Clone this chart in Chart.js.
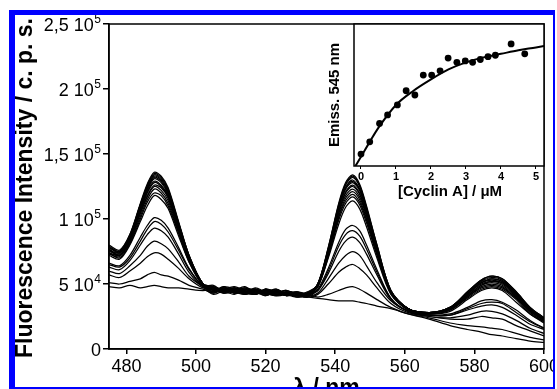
<!DOCTYPE html>
<html><head><meta charset="utf-8">
<script src="https://cdn.jsdelivr.net/npm/chart.js@4.4.1/dist/chart.umd.min.js"></script>
<style>
html,body{margin:0;padding:0;background:#fff;overflow:hidden;width:557px;height:389px;}
#wrap{position:relative;width:557px;height:389px;overflow:hidden;}
canvas{position:absolute;left:0;top:0;}
#frame{position:absolute;left:9px;top:10px;width:546px;height:379px;box-sizing:border-box;border-style:solid;border-color:#0000ff;border-width:5px 2px 2px 6px;outline:60px solid #fff;pointer-events:none;}
</style></head>
<body><div id="wrap">
<canvas id="main" width="580" height="400"></canvas>
<canvas id="inset" width="580" height="400"></canvas>
<div id="frame"></div>
</div>
<script>
// ---- main chart data (intensity in 10^3 c.p.s.) ----
const wavelengths = [475,478,481,484,486,488,490,492,495,498,502,505,508,511,514,517,520,523,526,529,532,535,538,541,543,545,547,549,552,556,561,567,573,578,582,585,588,592,596,600];
const spectrum00 = [48,47,49,47,48,49,48,47,47,46,45,46,45,45,44,44,43,42,42,41,40,39,38,37,37,37,36,35,33,31,27,23,18,15,13,11,10,8,6,5];
const spectrum01 = [51,50,52,54,57,59,57,56,53,49,46,43,46,44,42,45,43,41,44,40,42,40,42,45,47,48,46,43,38,32,27,24,20,18,17,16,15,12,9,7];
const spectrum02 = [57,55,60,66,71,74,73,69,62,54,47,47,44,46,43,42,45,44,41,43,40,42,50,59,63,65,62,57,47,35,28,25,23,23,25,24,23,18,14,10];
const spectrum03 = [60,58,64,72,79,83,81,77,67,56,48,44,47,43,46,44,41,44,42,44,41,43,54,66,72,75,72,64,51,37,29,25,24,26,29,29,27,22,16,12];
const spectrum04 = [63,61,68,80,88,93,91,86,73,59,48,48,45,44,47,43,45,42,44,41,43,45,58,75,83,86,82,73,57,38,29,26,26,30,33,34,32,26,19,15];
const spectrum05 = [65,63,70,83,92,98,96,90,76,61,48,42,45,47,43,46,42,45,41,43,42,45,60,79,88,91,87,77,59,39,29,26,26,31,35,36,35,28,21,16];
const spectrum06 = [66,64,72,86,95,101,99,93,78,62,48,47,43,45,45,42,46,43,45,42,40,46,62,82,92,95,91,80,61,39,29,26,27,32,37,38,36,30,22,16];
const spectrum07 = [72,69,80,98,110,118,115,108,87,67,49,45,48,43,44,46,43,41,43,44,42,48,70,96,109,114,108,94,70,42,30,27,29,38,45,47,45,36,27,20];
const spectrum08 = [74,70,81,100,113,120,118,110,89,67,49,49,44,46,42,45,44,46,42,40,43,48,71,99,112,117,111,97,72,43,30,27,30,39,46,48,46,38,27,21];
const spectrum09 = [73,71,82,102,115,123,120,112,90,68,49,44,46,48,45,42,46,42,44,43,41,48,72,101,114,119,113,99,73,43,30,27,30,40,47,49,47,39,28,21];
const spectrum10 = [76,72,83,104,117,125,122,114,91,69,50,46,43,44,47,45,41,44,43,41,44,49,73,102,116,121,115,100,74,43,31,27,30,40,48,50,48,39,29,22];
const spectrum11 = [74,72,84,105,118,126,124,116,92,69,50,43,47,45,43,47,44,43,45,42,40,49,74,104,118,123,117,102,75,44,31,28,31,41,49,51,49,40,29,22];
const spectrum12 = [77,72,84,106,120,128,125,117,93,70,50,48,45,42,46,43,45,41,42,44,43,49,74,105,120,125,119,103,76,44,31,28,31,41,49,52,50,41,30,22];
const spectrum13 = [73,73,85,107,121,129,126,118,94,70,50,45,44,47,44,42,46,44,41,42,42,49,75,106,121,126,120,104,76,44,31,28,31,42,50,52,51,41,30,23];
const spectrum14 = [78,74,86,108,122,131,128,119,95,70,50,47,46,43,45,46,42,45,43,40,41,49,76,108,123,128,122,106,77,44,31,28,31,42,51,53,51,42,30,23];
const spectrum15 = [75,74,86,109,123,132,129,120,96,71,50,44,48,46,42,44,45,42,44,43,43,50,76,108,124,129,123,106,78,44,31,28,31,43,51,54,52,42,31,23];
const spectrum16 = [79,75,86,109,124,133,130,121,96,71,50,46,44,45,48,43,43,46,42,41,42,50,76,109,124,130,123,107,78,44,31,28,32,43,51,54,52,43,31,23];
const spectrum17 = [76,74,87,111,125,134,131,122,97,72,50,48,43,47,44,45,42,43,45,42,40,50,77,110,126,132,125,108,79,45,31,28,32,43,52,55,53,43,31,24];
const spectrum18 = [80,76,88,111,126,135,132,123,97,72,50,45,47,44,46,42,46,44,41,43,42,50,78,111,127,133,126,109,80,45,31,28,32,44,53,56,54,44,32,24];
const spectrum19 = [78,75,88,112,127,136,133,124,98,72,50,47,45,46,43,46,44,42,43,41,43,50,78,112,128,134,127,110,80,45,31,28,32,44,53,56,54,44,32,24];
const xTickValues = [480,500,520,540,560,580,600];
const yTickValues = [0,50,100,150,200,250];
const yTickBase = ['0','5 10','1 10','1,5 10','2 10','2,5 10'];
const yTickExp = ['','4','5','5','5','5'];

// ---- inset data ----
const cyclinA = [0.00,0.25,0.53,0.76,1.04,1.29,1.54,1.78,2.02,2.26,2.49,2.74,2.98,3.19,3.41,3.63,3.84,4.29,4.68];
const emission545 = [8.4,17,30,36,43,53,50,64,64,67,76,73,74,73,75,77,78,86,79];
const fitX = [-0.16,0,0.25,0.5,1,1.5,2,2.5,3,3.5,4,4.5,5,5.23];
const fitY = [0,6.5,17,27,43,53,61,68,73,76.5,79,81.5,83.5,84.5];
const insetTickValues = [0,1,2,3,4,5];

const FAMILY = '"Liberation Sans", Arial, Helvetica, sans-serif';
Chart.defaults.font.family = FAMILY;
Chart.defaults.color = '#000';

const spectra = [spectrum00,spectrum01,spectrum02,spectrum03,spectrum04,spectrum05,spectrum06,spectrum07,spectrum08,spectrum09,
                 spectrum10,spectrum11,spectrum12,spectrum13,spectrum14,spectrum15,spectrum16,spectrum17,spectrum18,spectrum19];

const mainDecor = {
  id: 'mainDecor',
  afterDraw(chart) {
    const ctx = chart.ctx, a = chart.chartArea, ys = chart.scales.y;
    ctx.save();
    ctx.strokeStyle = '#000'; ctx.lineWidth = 1.5;
    ctx.strokeRect(a.left, a.top, a.right - a.left, a.bottom - a.top);
    ctx.fillStyle = '#000';
    const right = 101;
    yTickValues.forEach((v, i) => {
      const py = ys.getPixelForValue(v);
      const exp = yTickExp[i];
      ctx.textAlign = 'right'; ctx.textBaseline = 'alphabetic';
      ctx.font = '12px ' + FAMILY;
      const ew = exp ? ctx.measureText(exp).width : 0;
      if (exp) ctx.fillText(exp, right, py - 1);
      ctx.font = '18px ' + FAMILY;
      ctx.fillText(yTickBase[i], right - ew - (exp ? 0.5 : 0), py + 6.5);
    });
    // y title
    ctx.font = 'bold 23px ' + FAMILY;
    ctx.textAlign = 'center'; ctx.textBaseline = 'alphabetic';
    ctx.save();
    ctx.translate(31.5, 188);
    ctx.rotate(-Math.PI / 2);
    ctx.fillText('Fluorescence Intensity / c. p. s.', 0, 0);
    ctx.restore();
    // x title
    ctx.fillText('\u03bb / nm', (a.left + a.right) / 2, 395);
    ctx.restore();
  }
};

new Chart(document.getElementById('main'), {
  type: 'line',
  data: {
    datasets: spectra.map(s => ({
      data: wavelengths.map((w, i) => ({x: w, y: s[i]})),
      borderColor: '#000', borderWidth: 1.25, pointRadius: 0, tension: 0.3, fill: false
    }))
  },
  options: {
    responsive: false, animation: false, devicePixelRatio: 1,
    layout: {padding: {left: 109, top: 24, right: 36, bottom: 16}},
    plugins: {legend: {display: false}, tooltip: {enabled: false}},
    scales: {
      x: {
        type: 'linear', min: 475, max: 600,
        afterBuildTicks: s => { s.ticks = xTickValues.map(v => ({value: v})); },
        ticks: {font: {size: 18}, color: '#000', padding: 2, maxRotation: 0, autoSkip: false, callback: v => String(v)},
        grid: {drawOnChartArea: false, drawTicks: true, tickLength: 5, color: '#000', lineWidth: 1.5},
        border: {display: true, color: '#000', width: 1.5},
        afterFit: s => { s.height = 35; }
      },
      y: {
        type: 'linear', min: 0, max: 250,
        afterBuildTicks: s => { s.ticks = yTickValues.map(v => ({value: v})); },
        ticks: {display: false},
        grid: {drawOnChartArea: false, drawTicks: true, tickLength: 6, color: '#000', lineWidth: 1.5},
        border: {display: true, color: '#000', width: 1.5},
        afterFit: s => { s.width = 0; }
      }
    }
  },
  plugins: [mainDecor]
});

const insetDecor = {
  id: 'insetDecor',
  beforeDraw(chart) {
    const ctx = chart.ctx, a = chart.chartArea;
    ctx.save(); ctx.fillStyle = '#fff';
    ctx.fillRect(a.left, a.top, a.right - a.left, a.bottom - a.top);
    ctx.restore();
  },
  afterDraw(chart) {
    const ctx = chart.ctx, a = chart.chartArea;
    ctx.save();
    ctx.strokeStyle = '#000'; ctx.lineWidth = 1.5;
    ctx.strokeRect(a.left, a.top, a.right - a.left, a.bottom - a.top);
    ctx.fillStyle = '#000';
    ctx.font = 'bold 15px ' + FAMILY;
    ctx.textAlign = 'center'; ctx.textBaseline = 'alphabetic';
    ctx.fillText('[Cyclin A] / \u03bcM', 450, 195.5);
    ctx.translate(339, (a.top + a.bottom) / 2);
    ctx.rotate(-Math.PI / 2);
    ctx.fillText('Emiss. 545 nm', 0, 0);
    ctx.restore();
  }
};

new Chart(document.getElementById('inset'), {
  type: 'scatter',
  data: {
    datasets: [
      {type: 'scatter', data: cyclinA.map((x, i) => ({x, y: emission545[i]})),
       backgroundColor: '#000', borderColor: '#000', pointRadius: 3.4, pointBorderWidth: 0, order: 0},
      {type: 'line', data: fitX.map((x, i) => ({x, y: fitY[i]})),
       borderColor: '#000', borderWidth: 2, pointRadius: 0, cubicInterpolationMode: 'monotone', fill: false, order: 1}
    ]
  },
  options: {
    responsive: false, animation: false, devicePixelRatio: 1,
    layout: {padding: {left: 354, top: 24, right: 36, bottom: 212}},
    plugins: {legend: {display: false}, tooltip: {enabled: false}},
    scales: {
      x: {
        type: 'linear', min: -0.2, max: 5.23,
        afterBuildTicks: s => { s.ticks = insetTickValues.map(v => ({value: v})); },
        ticks: {font: {size: 11, weight: 'bold'}, color: '#000', padding: 1, maxRotation: 0, autoSkip: false, callback: v => String(v)},
        grid: {drawOnChartArea: false, drawTicks: true, tickLength: 3, color: '#000', lineWidth: 1},
        border: {display: false},
        afterFit: s => { s.height = 22; }
      },
      y: {
        type: 'linear', min: 0, max: 100,
        ticks: {display: false},
        grid: {display: false},
        border: {display: false},
        afterFit: s => { s.width = 0; }
      }
    }
  },
  plugins: [insetDecor]
});
</script></body></html>
